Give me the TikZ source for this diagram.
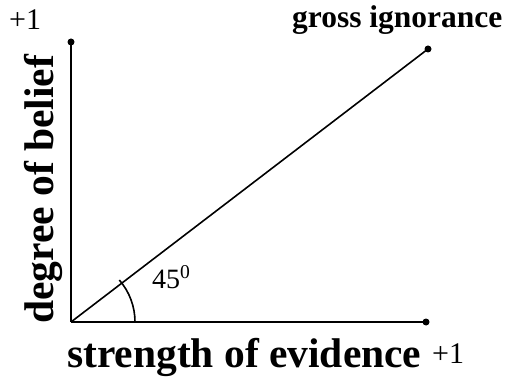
\documentclass[tikz,border=0pt]{standalone}
\usepackage{fontspec}
\setmainfont{Liberation Serif}
\usetikzlibrary{positioning,calc}

\begin{document}
\begin{tikzpicture}[x=1pt, y=1pt,
    axis/.style={line width=1.6pt, black},
    dot/.style={circle, fill=black, inner sep=0pt, minimum size=7pt},
    big/.style={font=\fontsize{41.5}{41.5}\selectfont\bfseries, inner sep=0pt},
    mid/.style={font=\fontsize{31.5}{31.5}\selectfont\bfseries, inner sep=0pt},
    one/.style={font=\fontsize{30}{30}\selectfont, inner sep=0pt}
  ]
  \useasboundingbox (0,0) rectangle (508,383);

  % corner points
  \coordinate (o) at (71,61);
  \node[dot] (ytop) at (71,341) {};
  \node[dot] (xend) at (426,61) {};
  \node[dot] (gi) at (428,334) {};

  % axes and diagonal
  \draw[axis] (o) -- (ytop.center);
  \draw[axis] (o) -- (xend.center);
  \draw[axis] (o) -- (gi.center);

  % angle mark
  \draw[axis] ($(o)+(64,0)$) arc[start angle=0, end angle=41, radius=64];

  % labels
  \node[one, anchor=base west] (ytick) at (9,353) {+1};
  \node[one, anchor=base west] (xtick) at (432,20) {+1};
  \node[mid, anchor=base west] (gross) at (292,355) {gross ignorance};
  \node[big, anchor=base west] (xlab) at (67,16) {strength of evidence};
  \node[big, anchor=base west, rotate=90] (ylab) at (53,59) {degree of belief};
  \node[font=\fontsize{28}{28}\selectfont, inner sep=0pt, anchor=base west]
    (ang) at (152,95) {45$^{\mathrm{0}}$};
\end{tikzpicture}
\end{document}
